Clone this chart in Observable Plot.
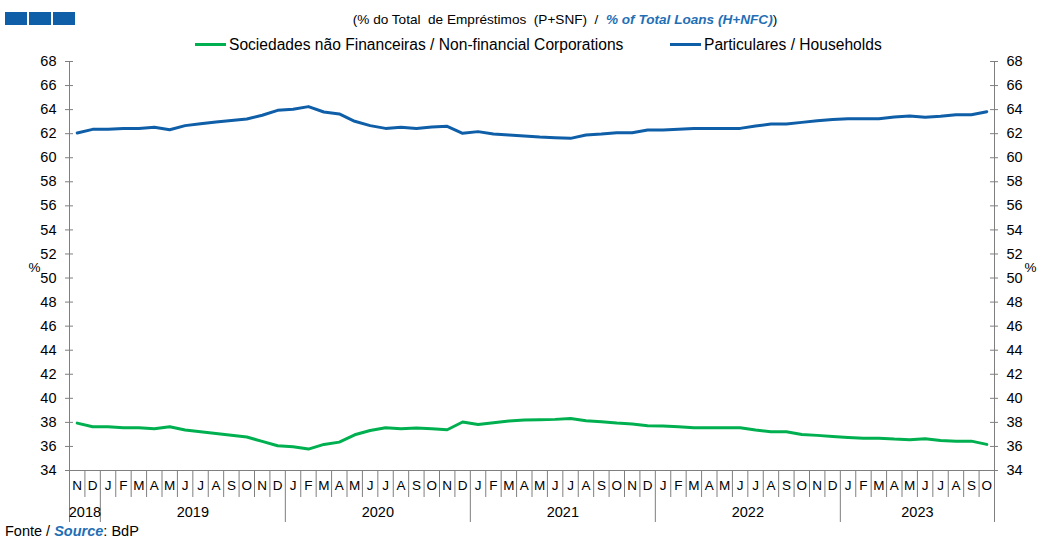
<!DOCTYPE html>
<html><head><meta charset="utf-8">
<script src="https://cdn.jsdelivr.net/npm/d3@7"></script>
<script src="https://cdn.jsdelivr.net/npm/@observablehq/plot@0.6"></script>
<style>
body{margin:0;font-family:"Liberation Sans",Arial,sans-serif;background:#fff;width:1042px;height:538px;position:relative;overflow:hidden;color:#000}
#hdr{position:relative;height:54px}
.sq{position:absolute;top:12px;width:22px;height:13px;background:#0f5ea8}
#title{position:absolute;top:12px;left:0;width:1130px;text-align:center;font-size:13.6px;white-space:pre}
#title .en{color:#1f6fb5;font-weight:bold;font-style:italic}
.lg{position:absolute;top:36px;font-size:15.6px;white-space:nowrap}
.lg .sw{display:inline-block;width:31px;height:3px;vertical-align:middle;margin-right:3px;position:relative;top:-1px}
#chart{position:absolute;top:54px;left:0}
#src{position:absolute;left:5px;top:523px;font-size:14.5px}
#src .en{color:#1f6fb5;font-weight:bold;font-style:italic}
</style></head><body>
<div id="hdr">
  <div class="sq" style="left:5px"></div><div class="sq" style="left:29px"></div><div class="sq" style="left:53px"></div>
  <div id="title">(% do Total  de Empréstimos  (P+SNF)  /  <span class="en">% of Total Loans (H+NFC)</span>)</div>
  <div class="lg" style="left:195px"><span class="sw" style="background:#00b050"></span>Sociedades não Financeiras / Non-financial Corporations</div>
  <div class="lg" style="left:670px"><span class="sw" style="background:#0f5ea8"></span>Particulares / Households</div>
</div>
<div id="chart"></div>
<div id="src">Fonte / <span class="en">Source</span>: BdP</div>
<script>
const monthLabels = ["N","D",
 "J","F","M","A","M","J","J","A","S","O","N","D",
 "J","F","M","A","M","J","J","A","S","O","N","D",
 "J","F","M","A","M","J","J","A","S","O","N","D",
 "J","F","M","A","M","J","J","A","S","O","N","D",
 "J","F","M","A","M","J","J","A","S","O"];
const yearLabels = ["2018","2019","2020","2021","2022","2023"];
const yearStart = [0,2,14,26,38,50];
const yearEnd = [2,14,26,38,50,60];
const households = [62.06,62.36,62.36,62.44,62.44,62.53,62.33,62.67,62.83,62.97,63.10,63.22,63.53,63.94,64.03,64.25,63.80,63.64,63.03,62.67,62.44,62.53,62.44,62.56,62.61,62.03,62.17,61.97,61.89,61.80,61.72,61.67,61.61,61.89,61.97,62.08,62.08,62.30,62.30,62.36,62.44,62.44,62.44,62.44,62.64,62.80,62.80,62.94,63.08,63.17,63.25,63.25,63.25,63.39,63.47,63.36,63.44,63.58,63.58,63.83];
const nfc = [37.94,37.64,37.64,37.56,37.56,37.47,37.64,37.36,37.22,37.08,36.94,36.78,36.42,36.06,35.97,35.78,36.17,36.36,36.97,37.33,37.56,37.47,37.53,37.47,37.39,38.03,37.83,37.97,38.11,38.19,38.22,38.25,38.33,38.14,38.06,37.94,37.86,37.72,37.69,37.64,37.56,37.56,37.56,37.56,37.36,37.22,37.22,37.00,36.92,36.83,36.75,36.69,36.69,36.61,36.56,36.64,36.50,36.44,36.44,36.17];
const yTicks = [34,36,38,40,42,44,46,48,50,52,54,56,58,60,62,64,66,68];

const hh = households.map((v,i)=>({i, v}));
const nf = nfc.map((v,i)=>({i, v}));
const months = monthLabels.map((m,i)=>({i, m}));
const years = yearLabels.map((y,k)=>({y, c:(yearStart[k]+yearEnd[k]-1)/2}));
const yearSeps = yearStart.map(s=>s-0.5).concat([yearEnd[yearEnd.length-1]-0.5]);
const monthSeps = d3.range(1, monthLabels.length).map(i=>i-0.5).filter(x=>!yearSeps.includes(x));
const axisColor = "#7f7f7f";

const chart = Plot.plot({
  width: 1042, height: 468,
  marginLeft: 69, marginRight: 48, marginTop: 7, marginBottom: 52,
  style: {fontFamily: '"Liberation Sans", Arial, sans-serif', fontSize: "14px", background: "transparent", color: "#000"},
  x: {type: "linear", domain: [-0.5, 59.5], axis: null},
  y: {domain: [34, 68], axis: null},
  marks: [
    Plot.axisY(yTicks, {anchor: "left", tickSize: 0, tickPadding: 13, fontSize: 14.5, label: null}),
    Plot.axisY(yTicks, {anchor: "right", tickSize: 0, tickPadding: 12, fontSize: 14.5, label: null}),
    Plot.ruleY(yTicks, {x1: -0.5, x2: -0.5, insetLeft: -4, insetRight: -4, stroke: axisColor}),
    Plot.ruleY(yTicks, {x1: 59.5, x2: 59.5, insetLeft: -4, insetRight: -4, stroke: axisColor}),
    Plot.ruleX([-0.5, 59.5], {y1: 34, y2: 68, stroke: axisColor}),
    Plot.ruleY([34], {x1: -0.5, x2: 59.5, stroke: axisColor}),
    Plot.ruleX(monthSeps, {y1: 34, y2: 34, insetBottom: -27, stroke: axisColor}),
    Plot.ruleX(yearSeps, {y1: 34, y2: 34, insetBottom: -52, stroke: axisColor}),
    Plot.text(months, {x: "i", y: 34, text: "m", dy: 15, fontSize: 13.5, fill: "#000"}),
    Plot.text(years, {x: "c", y: 34, text: "y", dy: 42, fontSize: 14.5, fill: "#000"}),
    Plot.text(["%"], {frameAnchor: "left", dx: -41, dy: 2, fontSize: 13.5, fill: "#000"}),
    Plot.text(["%"], {frameAnchor: "right", dx: 42, dy: 2, fontSize: 13.5, fill: "#000"}),
    Plot.lineY(nf, {x: "i", y: "v", stroke: "#00b050", strokeWidth: 3, curve: "linear"}),
    Plot.lineY(hh, {x: "i", y: "v", stroke: "#0f5ea8", strokeWidth: 3, curve: "linear"})
  ]
});
document.getElementById("chart").appendChild(chart);
</script>
</body></html>
